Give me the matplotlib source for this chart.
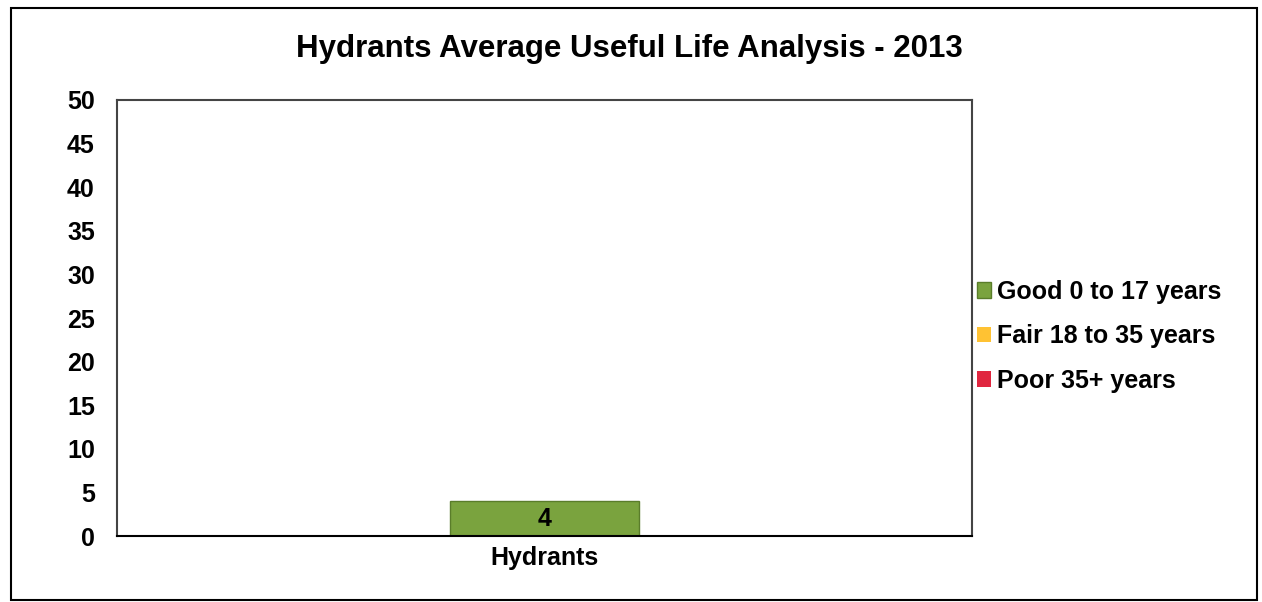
import matplotlib.pyplot as plt
from matplotlib.patches import Rectangle

# data
categories = ['Hydrants']
good = [4]
fair = [0]
poor = [0]
series_names = ['Good 0 to 17 years', 'Fair 18 to 35 years', 'Poor 35+ years']
colors = ['#7aa33e', '#ffc233', '#e0263f']
yticks = [0, 5, 10, 15, 20, 25, 30, 35, 40, 45, 50]

plt.rcParams['font.family'] = ['Liberation Sans', 'DejaVu Sans']
plt.rcParams['font.weight'] = 'bold'

fig = plt.figure(figsize=(12.62, 6.02), dpi=100)
ax = fig.add_axes([0.0927, 0.1096, 0.6775, 0.7243])

# outer frame of the chart area
fig.patches.append(Rectangle((0.009, 0.004), 0.987, 0.983, transform=fig.transFigure,
                             fill=False, edgecolor='black', linewidth=1.5))

b1 = ax.bar(categories, good, width=0.22, color=colors[0], edgecolor='#5a7d2a',
            linewidth=1, label=series_names[0])
b2 = ax.bar(categories, fair, width=0.22, bottom=good, color=colors[1],
            label=series_names[1])
bottom2 = [g + f for g, f in zip(good, fair)]
b3 = ax.bar(categories, poor, width=0.22, bottom=bottom2, color=colors[2],
            label=series_names[2])

for rect, v in zip(b1, good):
    ax.text(rect.get_x() + rect.get_width() / 2, v / 2, str(v), ha='center', va='center',
            fontsize=18, fontweight='bold')

ax.set_xlim(-0.5, 0.5)
ax.set_ylim(0, 50)
ax.set_yticks(yticks)
ax.tick_params(axis='y', length=0, labelsize=18, pad=16)
ax.tick_params(axis='x', length=0, labelsize=18, pad=7)
for lab in ax.get_yticklabels() + ax.get_xticklabels():
    lab.set_fontweight('bold')

for side in ['top', 'right', 'left']:
    ax.spines[side].set_color('#444444')
    ax.spines[side].set_linewidth(1.5)
ax.spines['bottom'].set_color('black')
ax.spines['bottom'].set_linewidth(1.5)

fig.text(0.499, 0.918, 'Hydrants Average Useful Life Analysis - 2013', ha='center', va='center',
         fontsize=22.5, fontweight='bold')

leg = ax.legend(loc='center left', bbox_to_anchor=(1.0, 0.458), frameon=False,
                fontsize=18, handlelength=0.55, handleheight=0.6, handletextpad=0.25,
                labelspacing=0.82, borderaxespad=0.0, borderpad=0.2)
for t in leg.get_texts():
    t.set_fontweight('bold')

fig.savefig('out.png', dpi=100)
